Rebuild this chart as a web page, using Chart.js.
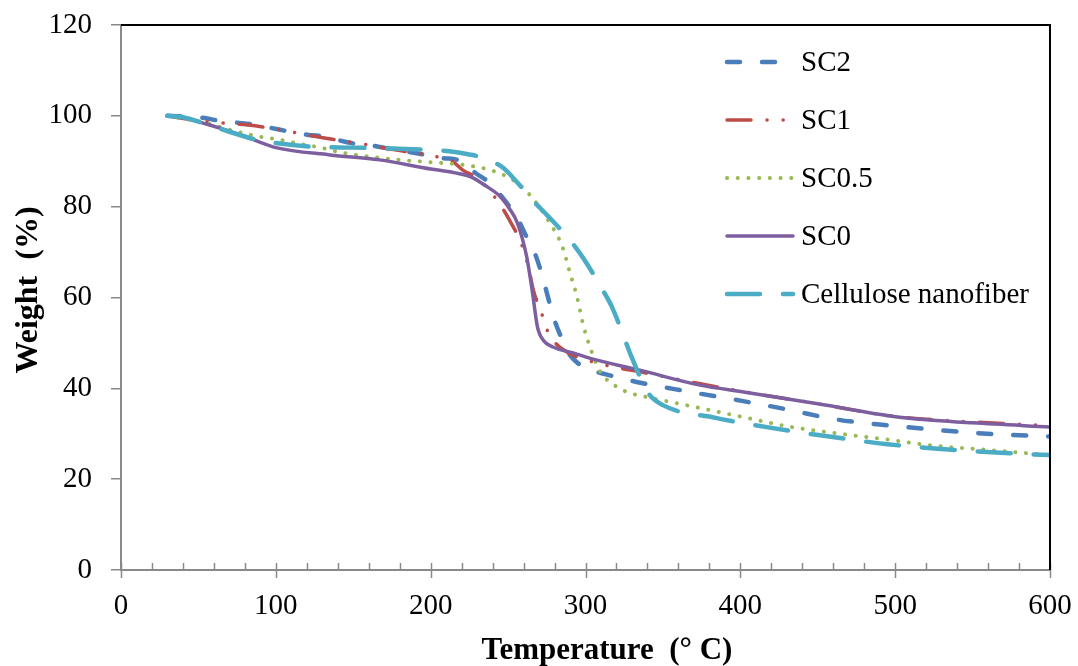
<!DOCTYPE html>
<html>
<head>
<meta charset="utf-8">
<script src="https://cdn.jsdelivr.net/npm/chart.js@4.4.1/dist/chart.umd.min.js"></script>
<style>
  html, body { margin: 0; padding: 0; background: #fff; }
  #wrap { width: 1078px; height: 666px; }
</style>
</head>
<body>
<div id="wrap"><canvas id="tgaChart" width="1078" height="666"></canvas></div>
<script>
// TGA curves: temperature (°C) vs remaining weight (%)
const sc2Temp = [30, 52, 64, 75, 87, 97.5, 109, 121, 133, 140, 152, 163, 174, 190, 208, 219, 229, 237, 246, 256.5, 262, 267, 271, 280, 285, 289, 298.5, 307.5, 320, 333, 366, 400, 431, 461, 500, 550, 570, 600];
const sc2Weight = [100, 99.6, 98.9, 98.5, 98, 97.3, 96.5, 95.8, 95.4, 94.7, 93.8, 93.4, 92.7, 91.8, 90.7, 90.1, 87.4, 85.5, 82.2, 77.1, 73.3, 70, 66, 55, 50.7, 47.8, 44.7, 43.6, 42.5, 41.4, 39.3, 37.3, 35.3, 33.2, 31.7, 30.2, 29.8, 29.4];

const sc1Temp = [30, 55, 66, 82, 100, 123, 156, 177, 204, 214, 221, 230, 241.6, 251, 260, 264, 266, 272, 275, 280, 289, 305, 340, 400, 450, 500, 550, 600];
const sc1Weight = [100, 98.7, 98.4, 98, 97.1, 95.6, 93.8, 92.5, 91, 90, 88, 86.3, 82, 77, 70.5, 65.4, 62, 56.2, 53, 50.2, 47.8, 45.8, 43.3, 39.4, 36.6, 33.8, 32.6, 31.8];

const sc05Temp = [30, 55, 75, 90, 103, 116, 129, 141, 161, 180, 200, 221, 240, 253, 264, 277, 285, 290, 295, 298.5, 303, 309, 322, 342, 355, 400, 431, 460, 500, 521, 550, 600];
const sc05Weight = [100, 98.4, 96.5, 95.4, 94.7, 93.8, 93, 92, 91, 90.3, 89.8, 89.2, 87.9, 85.9, 82.6, 76.4, 71.2, 65.4, 59.5, 54, 49, 44, 40, 37.9, 37, 33.8, 31.6, 30.2, 28.5, 27.5, 26.7, 25.3];

const sc0Temp = [30, 41, 53, 64, 75, 85, 100, 135, 167, 200, 215, 227, 235, 245, 251, 256, 262, 265.5, 269, 273, 279, 292, 303, 335, 374, 402, 450, 506, 550, 600];
const sc0Weight = [100, 99.6, 98.4, 97.3, 96, 94.8, 93, 91.4, 90.3, 88.3, 87.5, 86.4, 84.7, 82.2, 79.5, 76.4, 69, 61.7, 53.5, 50.5, 49.1, 47.8, 46.6, 44, 40.7, 39.2, 36.6, 33.5, 32.4, 31.5];

const cnfTemp = [30, 40, 53, 70, 88, 100, 123, 150, 176, 200, 212, 225, 236, 247, 256, 267, 275, 291, 298.5, 311, 317, 326, 330, 340.5, 350, 384, 420, 455, 495, 532, 568, 600];
const cnfWeight = [100, 99.7, 98.4, 96.5, 94.7, 94, 93.2, 93, 92.8, 92.5, 92.2, 91.5, 90.5, 88.5, 85.3, 81, 78.2, 72.2, 68.7, 61.7, 58, 50.2, 46.7, 39, 36.3, 33.5, 31.3, 29.5, 27.7, 26.6, 25.8, 25.3];

const seriesNames = ['SC2', 'SC1', 'SC0.5', 'SC0', 'Cellulose nanofiber'];
const xTickLabels = [0, 100, 200, 300, 400, 500, 600];
const yTickLabels = [0, 20, 40, 60, 80, 100, 120];
const xMinorStep = 20;

const serif = "'Liberation Serif', 'Times New Roman', serif";
const axisGray = '#898989';

function toPoints(xs, ys) {
  return xs.map((x, i) => ({ x: x, y: ys[i] }));
}

// frame, x-axis tick marks, legend and axis titles are drawn here
const extras = {
  id: 'extras',
  afterDraw(chart) {
    const ctx = chart.ctx;
    const area = chart.chartArea;
    const xs = chart.scales.x;
    ctx.save();

    // x ticks: minor ones point inward, majors cross the axis
    ctx.strokeStyle = axisGray;
    ctx.lineWidth = 1.5;
    for (let t = xTickLabels[0]; t <= xTickLabels[xTickLabels.length - 1]; t += xMinorStep) {
      const px = Math.round(xs.getPixelForValue(t)) + 0.5;
      const major = xTickLabels.includes(t);
      ctx.beginPath();
      ctx.moveTo(px, area.bottom - 7);
      ctx.lineTo(px, area.bottom + (major ? 8 : 0));
      ctx.stroke();
    }

    // black top and right edges of the plot area
    ctx.strokeStyle = '#000';
    ctx.lineWidth = 2;
    ctx.beginPath();
    ctx.moveTo(area.left, area.top);
    ctx.lineTo(area.right, area.top);
    ctx.lineTo(area.right, area.bottom);
    ctx.stroke();

    // legend inside the plot
    const legendX = 727, legendEnd = 793, textX = 801;
    const rowY = [62, 120, 178, 236, 294];
    chart.data.datasets.forEach((ds, i) => {
      const y = rowY[i];
      ctx.save();
      ctx.strokeStyle = ds.borderColor;
      ctx.lineWidth = ds.borderWidth;
      ctx.lineCap = 'round';
      ctx.setLineDash(ds.borderDash || []);
      ctx.beginPath();
      ctx.moveTo(legendX, y);
      ctx.lineTo(legendEnd, y);
      ctx.stroke();
      ctx.restore();
      ctx.fillStyle = '#000';
      ctx.font = '29px ' + serif;
      ctx.textAlign = 'left';
      ctx.textBaseline = 'middle';
      ctx.fillText(ds.label, textX, y + 1);
    });

    // axis titles
    ctx.fillStyle = '#000';
    ctx.font = 'bold 31px ' + serif;
    ctx.textAlign = 'center';
    ctx.textBaseline = 'alphabetic';
    ctx.fillText('Temperature  (° C)', 607, 659);

    ctx.save();
    ctx.translate(37, 290);
    ctx.rotate(-Math.PI / 2);
    ctx.font = 'bold 32px ' + serif;
    ctx.fillText('Weight  (%)', 0, 0);
    ctx.restore();

    ctx.restore();
  }
};

const styles = [
  { color: '#4a7ebb', width: 4.5, dash: [13, 22], order: 4 },
  { color: '#be4b48', width: 3.5, dash: [24, 16, 0.1, 16, 0.1, 16], order: 3 },
  { color: '#98b954', width: 4, dash: [0.1, 10.6], order: 2 },
  { color: '#7d5fa0', width: 3.5, dash: [], order: 1 },
  { color: '#4bacc6', width: 4.5, dash: [33, 23], order: 0 }
];
const seriesData = [
  toPoints(sc2Temp, sc2Weight),
  toPoints(sc1Temp, sc1Weight),
  toPoints(sc05Temp, sc05Weight),
  toPoints(sc0Temp, sc0Weight),
  toPoints(cnfTemp, cnfWeight)
];

const datasets = seriesNames.map((name, i) => ({
  label: name,
  data: seriesData[i],
  borderColor: styles[i].color,
  backgroundColor: styles[i].color,
  borderWidth: styles[i].width,
  borderDash: styles[i].dash,
  borderCapStyle: 'round',
  order: styles[i].order,
  pointRadius: 0,
  pointHoverRadius: 0,
  cubicInterpolationMode: 'monotone',
  fill: false
}));

new Chart(document.getElementById('tgaChart'), {
  type: 'line',
  data: { datasets: datasets },
  options: {
    responsive: false,
    animation: false,
    layout: { padding: { top: 25, right: 28, left: 0, bottom: 0 } },
    plugins: {
      legend: { display: false },
      tooltip: { enabled: false }
    },
    scales: {
      x: {
        type: 'linear',
        min: xTickLabels[0],
        max: xTickLabels[xTickLabels.length - 1],
        afterFit: (scale) => {
          scale.height = 96;
          scale.paddingLeft = 0;
          scale.paddingRight = 0;
        },
        ticks: {
          stepSize: 100,
          padding: 19,
          color: '#000',
          font: { family: serif, size: 29 }
        },
        grid: { display: true, drawOnChartArea: false, drawTicks: false, color: axisGray },
        border: { display: true, color: axisGray, width: 2 }
      },
      y: {
        min: yTickLabels[0],
        max: yTickLabels[yTickLabels.length - 1],
        afterFit: (scale) => {
          scale.width = 121;
          scale.paddingTop = 0;
          scale.paddingBottom = 0;
        },
        ticks: {
          stepSize: 20,
          padding: 19,
          color: '#000',
          font: { family: serif, size: 29 }
        },
        grid: { display: true, drawOnChartArea: false, drawTicks: true, tickLength: 10, color: axisGray, lineWidth: 1.5 },
        border: { display: true, color: axisGray, width: 2 }
      }
    }
  },
  plugins: [extras]
});
</script>
</body>
</html>
